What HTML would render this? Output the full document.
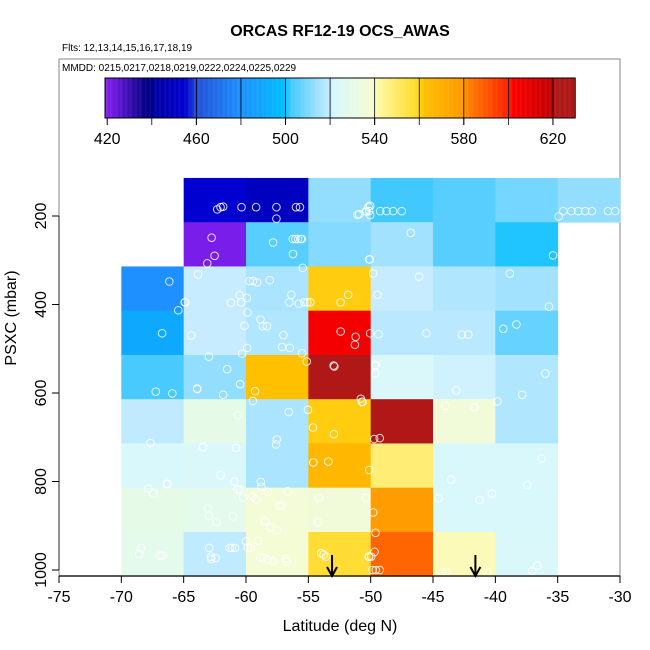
<!DOCTYPE html>
<html><head><meta charset="utf-8"><style>
body{margin:0;background:#fff;}
svg{display:block;font-family:"Liberation Sans",Arial,sans-serif;}
</style></head><body>
<svg id="chart" width="650" height="650" viewBox="0 0 650 650" xmlns="http://www.w3.org/2000/svg">
<text x="340" y="36" text-anchor="middle" font-size="16" font-weight="bold">ORCAS RF12-19 OCS_AWAS</text>
<text x="62" y="51" font-size="10">Flts: 12,13,14,15,16,17,18,19</text>
<rect x="59" y="59" width="561" height="517" fill="none" stroke="#999" stroke-width="1.2"/>
<text x="62" y="71" font-size="10">MMDD: 0215,0217,0218,0219,0222,0224,0225,0229</text>
<g id="cbar"></g>
<g id="cells"></g>
<g id="pts"></g>
<g id="axes"></g>
<text x="340" y="631" text-anchor="middle" font-size="16">Latitude (deg N)</text>
<text transform="translate(16,318) rotate(-90)" text-anchor="middle" font-size="16">PSXC (mbar)</text>
</svg>
<script>
const lonEdges = [-70,-65,-60,-55,-50,-45,-40,-35,-30];
const presTop = [114,214,314,414,514,614,714,814,914];
const row0 = [null,455,450,513,502,505,509,513];
const row1 = [null,421,505,511,515,505,501,null];
const row2 = [480,520,516,561,520,517,515,null];
const row3 = [490,520,517,605,518,518,507,null];
const row4 = [503,513,562,625,523,521,517,null];
const row5 = [519,530,516,561,625,536,517,null];
const row6 = [522,523,516,566,548,522,522,null];
const row7 = [530,529,537,536,578,522,522,null];
const row8 = [529,519,538,557,587,541,523,null];
const rows = [row0,row1,row2,row3,row4,row5,row6,row7,row8];
const ptLat = [-62.31,-62.04,-61.83,-60.36,-59.19,-57.56,-55.99,-55.67,-57.56,-62.76,-57.83,-56.23,-62.52,-63.11,-56.25,-56.04,-55.83,-55.61,-55.51,-55.45,-63.85,-66.15,-59.72,-59.43,-59.11,-58.09,-56.36,-60.52,-61.21,-60.39,-59.93,-64.89,-56.52,-55.77,-55.32,-55.08,-54.84,-65.43,-59.88,-58.84,-58.65,-58.33,-60.12,-64.39,-66.73,-57.0,-59.91,-57.11,-56.49,-60.31,-55.51,-62.97,-55.13,-52.41,-51.21,-51.27,-52.41,-51.8,-51.05,-50.39,-50.17,-50.12,-52.97,
-50.04,-50.12,-50.33,-50.04,-50.92,-49.24,-48.73,-48.2,-47.51,-46.79,-50.07,-49.8,-46.12,-49.45,-34.92,-34.55,-33.91,-33.35,-32.8,-32.25,-30.97,-30.39,-35.37,-38.84,-35.69,-39.37,-38.31,-50.04,-49.37,-45.53,-42.68,-42.17,-49.64,
-61.51,-60.47,-63.91,-61.83,-67.24,-65.91,-59.27,-59.45,-56.57,-55.03,-60.65,-54.63,-52.95,-50.79,-50.65,-52.92,-67.67,-63.45,-60.79,-57.53,-57.59,-54.6,-53.4,-62.04,-66.33,-67.83,-67.43,-60.92,-60.68,-60.47,-60.23,-58.81,-58.76,-58.25,-56.65,-59.45,-59.19,-57.32,-57.13,-54.15,-63.05,-62.97,-62.36,-61.05,-58.49,-58.04,-57.53,-54.23,-68.41,-68.57,-66.92,-66.71,-62.95,-62.81,-62.44,-62.79,-61.32,-61.13,-60.89,-59.99,-59.0,-59.85,-59.61,-58.87,-58.23,-57.85,-56.79,-56.73,-58.63,-53.96,-53.59,-53.77,-50.12,-50.39,
-49.59,-49.64,-43.13,-35.99,-37.85,-39.83,-41.69,-44.0,-50.71,-49.72,-49.27,-50.12,-43.56,-36.28,-37.45,-40.28,-41.27,-44.57,-49.8,-49.61,-49.69,-50.17,-49.96,-49.85,-49.59,-49.27,-44.25,-43.93,-40.65,-36.65,-37.05,-64.92,-63.93,-66.31];
const ptPres = [185,180,179,180,180,180,180,180,206,249,260,286,290,307,252,252,252,252,252,317,332,348,347,347,350,345,378,379,396,395,385,395,395,398,395,395,395,413,418,434,449,449,448,470,465,469,498,496,498,511,510,518,529,461,473,491,395,378,197,189,179,298,538,
177,189,190,198,196,189,189,189,189,238,298,330,337,378,201,189,189,189,189,189,189,189,289,330,405,455,445,465,467,465,468,468,538,
546,580,591,604,597,601,596,618,643,638,650,678,693,613,620,540,713,722,724,705,716,757,755,786,806,816,827,800,818,818,837,801,812,823,822,834,840,855,855,837,861,877,892,879,890,904,910,892,950,964,967,967,950,970,973,975,950,950,950,935,934,950,950,971,977,980,974,981,972,962,970,965,970,837,
537,556,594,556,604,619,632,629,620,704,702,774,796,748,808,827,842,838,870,916,959,970,970,1000,1000,1000,1005,1005,1005,990,1002,395,590,805];
const arrowLat = [-53.1,-41.6];
const xTicks = [-75,-70,-65,-60,-55,-50,-45,-40,-35,-30];
const yTicks = [200,400,600,800,1000];
const cbTicks = [420,460,500,540,580,620];
const cbBreaks = [420,440,460,480,500,520,540,560,580,600,620,630];
const stopVals = [420,438,440,455,460,480,500,502,520,522,540,542,560,562,580,582,600,602,620,621,630];
const stopCols = ['#8020f0','#000080','#0000a0','#0000d0','#2050d8','#1e90ff','#00c0ff','#40c8ff','#c8ecff','#d8f8fc','#f8fcd0','#fff8a0','#ffd820','#ffc000','#ff9800','#ff8000','#ff2000','#ff0000','#c00000','#b01818','#b01818'];

const NS='http://www.w3.org/2000/svg';
const xS = lon => 59 + (lon + 75) * 12.467;
const yS = p => 216 + (p - 200) * 0.4425;
const cbX = v => 105 + (v - 419) * 2.2286;
function hex(c){return [1,3,5].map(i=>parseInt(c.substr(i,2),16));}
function color(v){
  if(v<=stopVals[0])return stopCols[0];
  for(let i=1;i<stopVals.length;i++){
    if(v<=stopVals[i]){const t=(v-stopVals[i-1])/(stopVals[i]-stopVals[i-1]);const a=hex(stopCols[i-1]),b=hex(stopCols[i]);
      return 'rgb('+a.map((x,k)=>Math.round(x+(b[k]-x)*t)).join(',')+')';}
  }
  return stopCols[stopCols.length-1];
}
function mk(tag,attrs,parent){const e=document.createElementNS(NS,tag);for(const k in attrs)e.setAttribute(k,attrs[k]);parent.appendChild(e);return e;}

// colorbar
const cb=document.getElementById('cbar');
for(let v=419;v<630;v+=0.5){
  const r=mk('rect',{x:cbX(v),y:78,width:1.3,height:40,fill:color(v+0.25)},cb);
  
  
}
for(const b of cbBreaks.slice(1,-1)){
  const l=mk('line',{x1:cbX(b),x2:cbX(b),y1:78,y2:125,stroke:'#000','stroke-width':0.8},cb);
  
  
}
const cbFrame=mk('rect',{x:105,y:78,width:cbX(630)-105,height:40,fill:'none',stroke:'#000','stroke-width':1},cb);


for(const t of cbTicks){
  const l=mk('line',{x1:cbX(t),x2:cbX(t),y1:118,y2:125,stroke:'#000'},cb);
  
  
  const tx=mk('text',{x:cbX(t),y:144,'text-anchor':'middle','font-size':16},cb);
  tx.textContent=t;
  
  
}

// cells
const cg=document.getElementById('cells');
rows.forEach((row,ri)=>{
  row.forEach((v,ci)=>{
    if(v===null)return;
    const x0=xS(lonEdges[ci]),x1=xS(lonEdges[ci+1]);
    const y0=yS(presTop[ri]),y1=yS(presTop[ri]+100);
    const r=mk('rect',{x:x0,y:y0,width:x1-x0+0.4,height:y1-y0+0.4,fill:color(v)},cg);
    
    
  });
});

// points
const pg=document.getElementById('pts');
ptLat.forEach((lat,i)=>{
  const c=mk('circle',{cx:xS(lat),cy:yS(ptPres[i]),r:3.8,fill:'none',stroke:'#fff','stroke-opacity':0.85,'stroke-width':1},pg);
  
  
});

// axes
const ag=document.getElementById('axes');
const xl=mk('line',{x1:59,x2:620,y1:576,y2:576,stroke:'#000','stroke-width':1.2},ag);


for(const t of xTicks){
  const l=mk('line',{x1:xS(t),x2:xS(t),y1:576,y2:583,stroke:'#000'},ag);
  
  
  const tx=mk('text',{x:xS(t),y:602,'text-anchor':'middle','font-size':16},ag);
  tx.textContent=t;
  
  
}
const yl=mk('line',{x1:59,x2:59,y1:yS(200),y2:yS(1000),stroke:'#555','stroke-width':1.2},ag);


for(const t of yTicks){
  const l=mk('line',{x1:52,x2:59,y1:yS(t),y2:yS(t),stroke:'#000'},ag);
  
  
  const tx=mk('text',{transform:'translate(46,'+yS(t)+') rotate(-90)','text-anchor':'middle','font-size':16},ag);
  tx.textContent=t;
  
  
}
for(const a of arrowLat){
  const x=xS(a);
  const g=mk('g',{},ag);
  
  
  mk('line',{x1:x,x2:x,y1:555,y2:575,stroke:'#000','stroke-width':2},g);
  mk('polyline',{points:(x-5)+',567 '+x+',576 '+(x+5)+',567',fill:'none',stroke:'#000','stroke-width':2},g);
}
</script>
</body></html>
